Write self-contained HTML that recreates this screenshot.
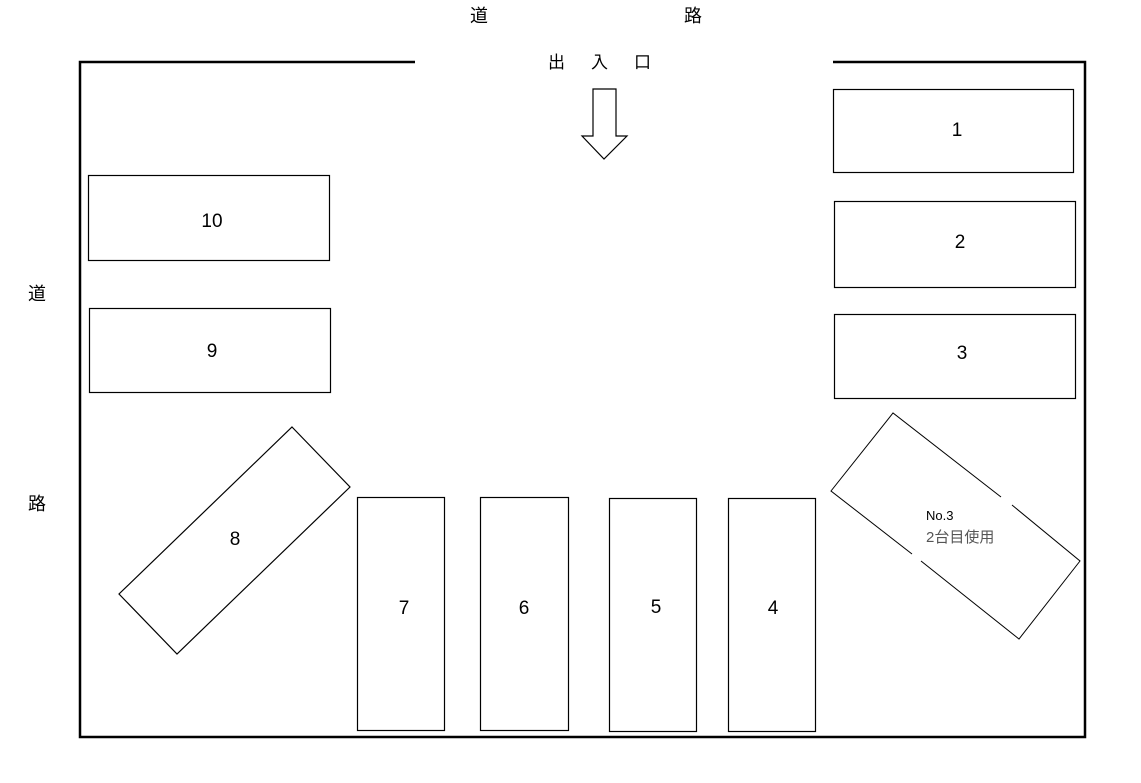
<!DOCTYPE html>
<html><head><meta charset="utf-8"><style>
html,body{margin:0;padding:0;background:#fff;}
svg{display:block}
text{font-family:"Liberation Sans","Noto Sans CJK JP",sans-serif;fill:#000}
</style></head><body>
<svg width="1141" height="783" viewBox="0 0 1141 783" xmlns="http://www.w3.org/2000/svg">
<g font-size="18" fill="#000">
<text x="470" y="22">道</text>
<text x="684" y="22">路</text>
<text x="548" y="68" font-size="17">出</text>
<text x="591" y="68" font-size="17">入</text>
<text x="634" y="68" font-size="17">口</text>
<text x="28" y="300">道</text>
<text x="28" y="510">路</text>
</g>
<g stroke="#000" stroke-width="2.5" fill="none">
<polyline points="415,62 80,62 80,737 1085,737 1085,62 833,62"/>
</g>
<polygon points="593,89 616,89 616,136 627,136 604,159 582,136 593,136" fill="#fff" stroke="#000" stroke-width="1.2"/>
<g stroke="#000" stroke-width="1.2" fill="#fff">
<rect x="833.5" y="89.5" width="240" height="83"/>
<rect x="834.5" y="201.5" width="241" height="86"/>
<rect x="834.5" y="314.5" width="241" height="84"/>
<rect x="88.5" y="175.5" width="241" height="85"/>
<rect x="89.5" y="308.5" width="241" height="84"/>
<rect x="357.5" y="497.5" width="87" height="233"/>
<rect x="480.5" y="497.5" width="88" height="233"/>
<rect x="609.5" y="498.5" width="87" height="233"/>
<rect x="728.5" y="498.5" width="87" height="233"/>
<polygon points="292,427 350,487 177,654 119,594"/>
</g>
<g stroke="#000" stroke-width="1" fill="none">
<polyline points="1001,497 893,413 831,491 912,554"/>
<polyline points="921,561 1019,639 1080,561 1012,505"/>
</g>
<g font-size="19" text-anchor="middle">
<text x="957" y="136">1</text>
<text x="960" y="248">2</text>
<text x="962" y="359">3</text>
<text x="212" y="227">10</text>
<text x="212" y="357">9</text>
<text x="235" y="545">8</text>
<text x="404" y="614">7</text>
<text x="524" y="614">6</text>
<text x="656" y="613">5</text>
<text x="773" y="614">4</text>
</g>
<text x="926" y="520" font-size="13">No.3</text>
<text x="926" y="542" font-size="15" style="fill:#555">2台目使用</text>
</svg>
</body></html>
